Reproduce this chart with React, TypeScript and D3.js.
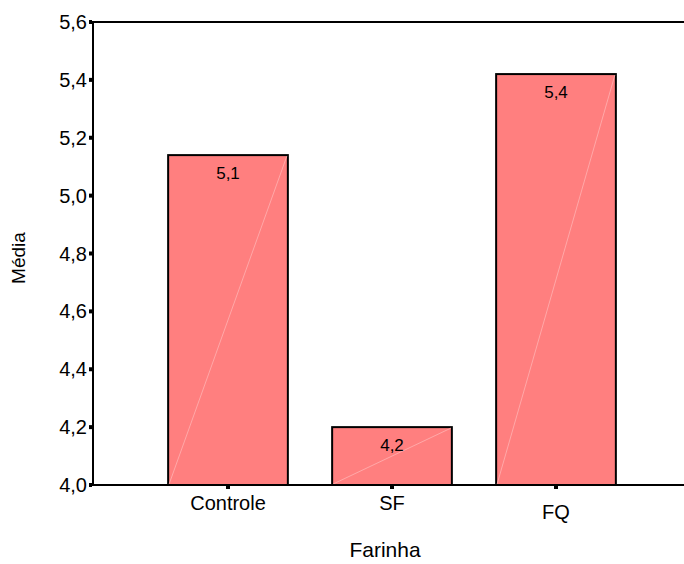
import React from "react";
import * as d3 from "d3";

const categories = ["Controle", "SF", "FQ"];
const values = [5.14, 4.2, 5.42];
const valueLabels = ["5,1", "4,2", "5,4"];
const yTicks = [4.0, 4.2, 4.4, 4.6, 4.8, 5.0, 5.2, 5.4, 5.6];

const W = 684;
const H = 564;
const left = 93;
const top = 22;
const bottom = 485;

export default function App() {
  const y = d3.scaleLinear().domain([4.0, 5.6]).range([bottom, top]);
  const x = d3
    .scaleBand<string>()
    .domain(categories)
    .range([146, 638])
    .paddingInner(0.27)
    .paddingOuter(0.135);
  const fmt = (v: number) => v.toFixed(1).replace(".", ",");
  const labelDy = [0, 0, 9];
  return (
    <svg
      width={W}
      height={H}
      style={{ position: "absolute", left: 0, top: 0, background: "#fff" }}
      fontFamily="'Liberation Sans', Arial, sans-serif"
    >
      {categories.map((c, i) => {
        const x0 = x(c)!;
        const bw = x.bandwidth();
        const yt = y(values[i]);
        return (
          <g key={c}>
            <rect x={x0} y={yt} width={bw} height={bottom - yt} fill="#ff7f7f" stroke="#000" strokeWidth={2} />
            <line x1={x0 + 1} y1={bottom - 1} x2={x0 + bw - 1} y2={yt + 1} stroke="#ffb3b3" strokeWidth={0.8} />
            <text x={x0 + bw / 2} y={yt + 24} textAnchor="middle" fontSize={17} fill="#000">
              {valueLabels[i]}
            </text>
            <rect x={x0 + bw / 2 - 2} y={bottom + 1} width={4} height={3} fill="#000" />
            <text x={x0 + bw / 2} y={bottom + 25 + labelDy[i]} textAnchor="middle" fontSize={20} fill="#000">
              {c}
            </text>
          </g>
        );
      })}
      <line x1={left} y1={top} x2={W} y2={top} stroke="#000" strokeWidth={2} />
      <line x1={left} y1={bottom} x2={W} y2={bottom} stroke="#000" strokeWidth={2} />
      <line x1={left} y1={top - 1} x2={left} y2={bottom + 1} stroke="#000" strokeWidth={2} />
      {yTicks.map((t) => (
        <g key={t}>
          <rect x={left - 4} y={y(t) - 2} width={3} height={4} fill="#000" />
          <text x={left - 6} y={y(t) + 7} textAnchor="end" fontSize={20} fill="#000">
            {fmt(t)}
          </text>
        </g>
      ))}
      <text
        transform={`translate(25, 258) rotate(-90)`}
        textAnchor="middle"
        fontSize={19}
        fill="#000"
      >
        Média
      </text>
      <text x={385} y={557} textAnchor="middle" fontSize={21} fill="#000">
        Farinha
      </text>
    </svg>
  );
}
